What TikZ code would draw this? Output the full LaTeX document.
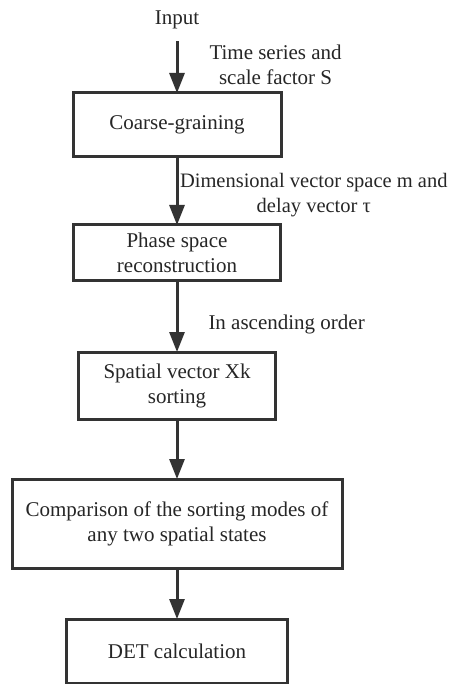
\documentclass[tikz,border=0pt]{standalone}
\usepackage{fontspec}
\setmainfont{Liberation Serif}
\usepackage{xcolor}
\usepackage{tikz}
\usetikzlibrary{shapes,arrows,arrows.meta,positioning}
\definecolor{flowgray}{HTML}{333333}
\tikzstyle{block} = [rectangle, draw=flowgray, line width=3pt, fill=white, 
    align=center, inner sep=0pt, outer sep=0pt]
\tikzstyle{line} = [draw=flowgray, line width=3pt, -{Triangle[length=20pt,width=15pt]}]

\begin{document}
\begin{tikzpicture}[x=1pt, y=1pt, font=\rmfamily\fontsize{21}{25}\selectfont, text=black!85]
    % Style definitions
    \tikzstyle{data} = [align=center, inner sep=0pt]
    \useasboundingbox (0,0) rectangle (452,-684);
    
    % Input node
    \node [data] (input) at (177,-20) {Input};
    
    % Processing nodes
    \node [block, minimum width=208pt, minimum height=64pt] (coarse) at (177,-125) {Coarse-graining};
    \node [block, minimum width=207pt, minimum height=55pt, below=68pt of coarse] (phase) {Phase space\\reconstruction};
    \node [block, minimum width=197pt, minimum height=67pt, below=72pt of phase] (sorting) {Spatial vector Xk\\sorting};
    \node [block, minimum width=330pt, minimum height=89pt, below=60pt of sorting] (compare) {Comparison of the sorting modes of\\any two spatial states};
    \node [block, minimum width=221pt, minimum height=64pt, below=51pt of compare] (det) {DET calculation};
    
    % Connections
    \path [line, shorten <=12pt] (input) -- node [data, pos=0.55, right=31pt] {Time series and\\scale factor S} (coarse);
    \path [line] (coarse) -- node [data, pos=0.56, right=1.5pt, font=\rmfamily\fontsize{20.5}{25}\selectfont] {Dimensional vector space m and\\delay vector τ} (phase);
    \path [line] (phase) -- node [data, pos=0.62, right=30pt] {In ascending order} (sorting);
    \path [line] (sorting) -- (compare);
    \path [line] (compare) -- (det);
\end{tikzpicture}
\end{document}
